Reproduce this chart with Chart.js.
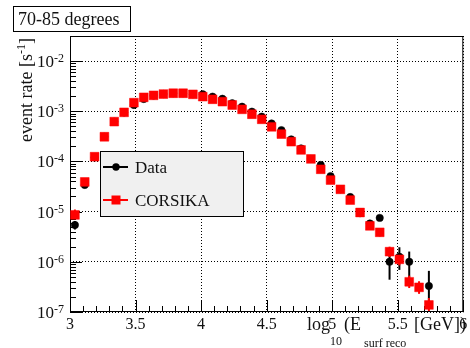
<!DOCTYPE html>
<html>
<head>
<meta charset="utf-8">
<script src="https://cdn.jsdelivr.net/npm/chart.js@4.4.1/dist/chart.umd.min.js"></script>
<style>
  html, body { margin: 0; padding: 0; background: #fff; }
  #wrap { width: 470px; height: 348px; }
</style>
</head>
<body>
<div id="wrap"><canvas id="rateChart" width="470" height="348"></canvas></div>
<script>
// bin centres of log10(E_surf reco / GeV)
const energyBins = [3.0375, 3.1125, 3.1875, 3.2625, 3.3375, 3.4125, 3.4875, 3.5625, 3.6375, 3.7125,
  3.7875, 3.8625, 3.9375, 4.0125, 4.0875, 4.1625, 4.2375, 4.3125, 4.3875, 4.4625,
  4.5375, 4.6125, 4.6875, 4.7625, 4.8375, 4.9125, 4.9875, 5.0625, 5.1375, 5.2125,
  5.2875, 5.3625, 5.4375, 5.5125, 5.5875, 5.6625, 5.7375];

// event rate [1/s]
const dataRate = [5.4e-6, 3.4e-5, 1.2e-4, 3.1e-4, 6.2e-4, 9.4e-4, 1.33e-3, 1.75e-3, 2.05e-3, 2.2e-3,
  2.28e-3, 2.28e-3, 2.17e-3, 2.17e-3, 1.95e-3, 1.77e-3, 1.44e-3, 1.23e-3, 9.8e-4, 7.8e-4,
  5.7e-4, 4.2e-4, 2.75e-4, 1.82e-4, 1.12e-4, 8.5e-5, 5.1e-5, 2.78e-5, 1.95e-5, 9.3e-6,
  5.8e-6, 7.5e-6, 1.0e-6, 1.26e-6, 1.0e-6, null, 3.3e-7];
const dataLow = [4.4e-6, null, null, null, null, null, null, null, null, null,
  null, null, null, null, null, null, null, null, null, null,
  null, null, null, null, null, null, null, null, null, null,
  null, null, 4.4e-7, 6.9e-7, 4.0e-7, null, 1.3e-7];
const dataHigh = [6.5e-6, null, null, null, null, null, null, null, null, null,
  null, null, null, null, null, null, null, null, null, null,
  null, null, null, null, null, null, null, null, null, null,
  null, null, 1.7e-6, 1.95e-6, 1.6e-6, null, 6.6e-7];

const corsikaRate = [8.6e-6, 3.9e-5, 1.24e-4, 3.1e-4, 6.2e-4, 9.5e-4, 1.48e-3, 1.89e-3, 2.07e-3, 2.2e-3,
  2.28e-3, 2.28e-3, 2.17e-3, 1.95e-3, 1.73e-3, 1.55e-3, 1.33e-3, 1.09e-3, 8.7e-4, 6.9e-4,
  4.9e-4, 3.5e-4, 2.47e-4, 1.69e-4, 1.12e-4, 6.97e-5, 4.26e-5, 2.78e-5, 1.70e-5, 9.6e-6,
  5.2e-6, 3.87e-6, 1.59e-6, 1.12e-6, 4.0e-7, 3.1e-7, 1.38e-7];
const corsikaLow = [6.8e-6, null, null, null, null, null, null, null, null, null,
  null, null, null, null, null, null, null, null, null, null,
  null, null, null, null, null, null, null, null, null, 8.0e-6,
  4.3e-6, 3.2e-6, 1.25e-6, 8.5e-7, 3.0e-7, 2.3e-7, 1.0e-7];
const corsikaHigh = [1.1e-5, null, null, null, null, null, null, null, null, null,
  null, null, null, null, null, null, null, null, null, null,
  null, null, null, null, null, null, null, null, null, 1.15e-5,
  6.3e-6, 4.7e-6, 2.0e-6, 1.45e-6, 5.3e-7, 4.1e-7, 1.9e-7];

const xTicks = [3, 3.5, 4, 4.5, 5, 5.5, 6];
const yDecades = [-7, -6, -5, -4, -3, -2];

const SERIF = '"Liberation Serif", "Times New Roman", serif';

const toPoints = (ys) => energyBins.map((x, i) => ({ x: x, y: ys[i] }));

// vertical error bars, behind the markers
const errorBars = {
  id: 'errorBars',
  beforeDatasetsDraw(chart) {
    const { ctx, scales: { x, y } } = chart;
    ctx.save();
    chart.data.datasets.forEach((ds) => {
      if (!ds.errLow) return;
      ctx.strokeStyle = ds.borderColor;
      ctx.lineWidth = 2;
      energyBins.forEach((e, i) => {
        if (ds.errLow[i] == null || ds.errHigh[i] == null) return;
        const px = x.getPixelForValue(e);
        ctx.beginPath();
        ctx.moveTo(px, y.getPixelForValue(ds.errLow[i]));
        ctx.lineTo(px, y.getPixelForValue(ds.errHigh[i]));
        ctx.stroke();
      });
    });
    ctx.restore();
  }
};

// ROOT-like frame, inward ticks, y labels with exponents, legend, titles
const decorations = {
  id: 'decorations',
  beforeDatasetsDraw(chart) {
    const { ctx, chartArea: a, scales: { x, y } } = chart;
    ctx.save();
    ctx.strokeStyle = '#000';
    ctx.lineWidth = 1;
    ctx.strokeRect(a.left + 0.5, a.top + 0.5, a.right - a.left - 1, a.bottom - a.top - 1);

    ctx.beginPath();
    // x ticks: major every 0.5, minor every 0.1
    for (let k = 30; k <= 60; k++) {
      const px = Math.round(x.getPixelForValue(k / 10)) + 0.5;
      const len = k % 5 === 0 ? 12 : 6;
      ctx.moveTo(px, a.bottom);
      ctx.lineTo(px, a.bottom - len);
    }
    // y ticks: decades and 2..9 minors
    yDecades.forEach((e) => {
      const py = Math.round(y.getPixelForValue(Math.pow(10, e))) + 0.5;
      ctx.moveTo(a.left, py);
      ctx.lineTo(a.left + 12, py);
      if (e === -2) return;
      for (let m = 2; m <= 9; m++) {
        const pm = Math.round(y.getPixelForValue(m * Math.pow(10, e))) + 0.5;
        ctx.moveTo(a.left, pm);
        ctx.lineTo(a.left + 6, pm);
      }
    });
    ctx.stroke();

    // y tick labels 10^n
    ctx.fillStyle = '#111';
    ctx.textBaseline = 'alphabetic';
    yDecades.forEach((e) => {
      const py = y.getPixelForValue(Math.pow(10, e));
      const exp = String(e);
      ctx.font = '12px ' + SERIF;
      const ew = ctx.measureText(exp).width;
      ctx.textAlign = 'left';
      ctx.fillText(exp, a.left - 6 - ew, py + 1);
      ctx.font = '17px ' + SERIF;
      ctx.textAlign = 'right';
      ctx.fillText('10', a.left - 6 - ew, py + 6);
    });
    ctx.restore();
  },
  afterDraw(chart) {
    const { ctx } = chart;
    ctx.save();
    ctx.fillStyle = '#111';
    ctx.textAlign = 'left';
    ctx.textBaseline = 'alphabetic';

    // legend box
    ctx.fillStyle = '#f0f0f0';
    ctx.fillRect(100, 151, 144, 66);
    ctx.strokeStyle = '#000';
    ctx.lineWidth = 1;
    ctx.strokeRect(100.5, 151.5, 143, 65);
    chart.data.datasets.forEach((ds, k) => {
      const ly = k === 0 ? 167 : 200;
      ctx.strokeStyle = ds.borderColor;
      ctx.fillStyle = ds.backgroundColor;
      ctx.lineWidth = 2;
      ctx.beginPath();
      ctx.moveTo(103, ly);
      ctx.lineTo(128, ly);
      ctx.stroke();
      if (ds.pointStyle === 'rect') {
        ctx.fillRect(111.5, ly - 4.5, 9, 9);
      } else {
        ctx.beginPath();
        ctx.arc(116, ly, 3.7, 0, Math.PI * 2);
        ctx.fill();
      }
      ctx.fillStyle = '#111';
      ctx.font = '17px ' + SERIF;
      ctx.fillText(ds.label, 135, ly + 6);
    });

    // title box
    ctx.fillStyle = '#fff';
    ctx.fillRect(13, 6, 118, 26);
    ctx.strokeStyle = '#000';
    ctx.lineWidth = 1;
    ctx.strokeRect(13.5, 6.5, 117, 25);
    ctx.fillStyle = '#111';
    ctx.font = '18px ' + SERIF;
    ctx.fillText('70-85 degrees', 18, 25);

    // x title
    ctx.font = '18px ' + SERIF;
    ctx.fillText('log', 307, 330);
    ctx.font = '12px ' + SERIF;
    ctx.fillText('10', 330, 345);
    ctx.font = '18px ' + SERIF;
    ctx.fillText('(E', 344, 330);
    ctx.font = '12px ' + SERIF;
    ctx.fillText('surf reco', 364, 347);
    ctx.font = '18px ' + SERIF;
    ctx.fillText('[GeV])', 414, 330);

    // y title, rotated, ending at the top of the frame
    ctx.translate(32, 38);
    ctx.rotate(-Math.PI / 2);
    ctx.font = '18px ' + SERIF;
    const main = 'event rate [s';
    const wMain = ctx.measureText(main).width;
    const wEnd = ctx.measureText(']').width;
    ctx.font = '12px ' + SERIF;
    const wSup = ctx.measureText('-1').width;
    const start = -(wMain + wSup + wEnd);
    ctx.font = '18px ' + SERIF;
    ctx.fillText(main, start, 0);
    ctx.fillText(']', start + wMain + wSup, 0);
    ctx.font = '12px ' + SERIF;
    ctx.fillText('-1', start + wMain, -7);
    ctx.restore();
  }
};

new Chart(document.getElementById('rateChart'), {
  type: 'scatter',
  data: {
    datasets: [
      {
        label: 'Data',
        data: toPoints(dataRate),
        errLow: dataLow,
        errHigh: dataHigh,
        pointStyle: 'circle',
        pointRadius: 3.7,
        borderWidth: 0.5,
        backgroundColor: '#000',
        borderColor: '#000',
        order: 1,
      },
      {
        label: 'CORSIKA',
        data: toPoints(corsikaRate),
        errLow: corsikaLow,
        errHigh: corsikaHigh,
        pointStyle: 'rect',
        pointRadius: 6.2,
        borderWidth: 0.5,
        backgroundColor: '#ff0000',
        borderColor: '#ff0000',
        order: 0,
      },
    ],
  },
  options: {
    responsive: false,
    animation: false,
    events: [],
    layout: { padding: { top: 36, right: 2, left: 0, bottom: 0 } },
    plugins: {
      legend: { display: false },
      tooltip: { enabled: false },
    },
    scales: {
      x: {
        type: 'linear',
        min: 3,
        max: 6,
        afterBuildTicks: (scale) => { scale.ticks = xTicks.map((v) => ({ value: v })); },
        afterFit: (scale) => {
          scale.height = 36;
          scale.paddingLeft = 0;
          scale.paddingRight = 0;
        },
        grid: { color: '#000', lineWidth: 1, drawTicks: false },
        border: { display: false, dash: [1, 2] },
        ticks: {
          padding: 3,
          maxRotation: 0,
          autoSkip: false,
          color: '#111',
          font: { family: SERIF, size: 16 },
          callback: (v) => String(v),
        },
      },
      y: {
        type: 'logarithmic',
        min: 1e-7,
        max: 0.0315,
        afterBuildTicks: (scale) => { scale.ticks = yDecades.map((e) => ({ value: Math.pow(10, e), major: true })); },
        afterFit: (scale) => {
          scale.width = 70;
          scale.paddingTop = 0;
          scale.paddingBottom = 0;
        },
        grid: { color: '#000', lineWidth: 1, drawTicks: false },
        border: { display: false, dash: [1, 2] },
        ticks: { display: false },
      },
    },
  },
  plugins: [errorBars, decorations],
});
</script>
</body>
</html>
